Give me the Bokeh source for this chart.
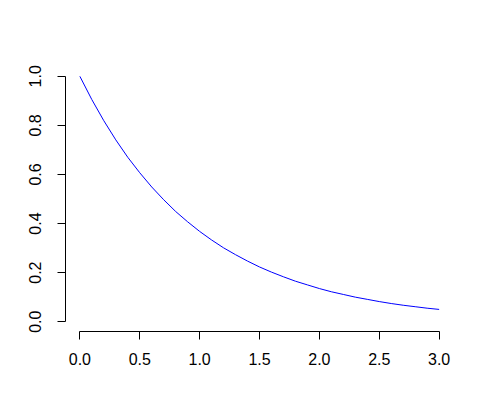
from bokeh.plotting import figure
from bokeh.models import FixedTicker, Range1d
from bokeh.embed import file_html
from bokeh.resources import INLINE

x_vals = [0.0, 0.1, 0.2, 0.3, 0.4, 0.5, 0.6, 0.7, 0.8, 0.9, 1.0,
          1.1, 1.2, 1.3, 1.4, 1.5, 1.6, 1.7, 1.8, 1.9, 2.0,
          2.1, 2.2, 2.3, 2.4, 2.5, 2.6, 2.7, 2.8, 2.9, 3.0]
y_vals = [1.000, 0.905, 0.819, 0.741, 0.670, 0.607, 0.549, 0.497, 0.449, 0.407, 0.368,
          0.333, 0.301, 0.273, 0.247, 0.223, 0.202, 0.183, 0.165, 0.150, 0.135,
          0.122, 0.111, 0.100, 0.091, 0.082, 0.074, 0.067, 0.061, 0.055, 0.050]

x_ticks = [0.0, 0.5, 1.0, 1.5, 2.0, 2.5, 3.0]
x_tick_labels = ["0.0", "0.5", "1.0", "1.5", "2.0", "2.5", "3.0"]
y_ticks = [0.0, 0.2, 0.4, 0.6, 0.8, 1.0]
y_tick_labels = ["0.0", "0.2", "0.4", "0.6", "0.8", "1.0"]

xpad = (max(x_ticks) - min(x_ticks)) * 0.04
ypad = (max(y_ticks) - min(y_ticks)) * 0.04

p = figure(output_backend="svg", toolbar_location=None,
           frame_width=388, frame_height=265,
           x_range=Range1d(min(x_ticks) - xpad, max(x_ticks) + xpad),
           y_range=Range1d(min(y_ticks) - ypad, max(y_ticks) + ypad),
           min_border_left=65, min_border_top=66, min_border_right=15, min_border_bottom=57)
p.outline_line_color = None
p.xgrid.visible = False
p.ygrid.visible = False
p.background_fill_color = "white"
p.border_fill_color = "white"

p.line(x_vals, y_vals, line_color="#0000FF", line_width=1)

p.xaxis.ticker = FixedTicker(ticks=x_ticks)
p.yaxis.ticker = FixedTicker(ticks=y_ticks)
p.xaxis.major_label_overrides = dict(zip(x_ticks, x_tick_labels))
p.yaxis.major_label_overrides = dict(zip(y_ticks, y_tick_labels))
p.xaxis.bounds = (min(x_ticks), max(x_ticks))
p.yaxis.bounds = (min(y_ticks), max(y_ticks))
p.yaxis.major_label_orientation = "vertical"

for ax in (p.xaxis, p.yaxis):
    ax.axis_line_color = "black"
    ax.axis_line_width = 1
    ax.major_tick_line_color = "black"
    ax.major_tick_in = 0
    ax.major_tick_out = 8
    ax.minor_tick_line_color = None
    ax.major_label_text_font = "Liberation Sans"
    ax.major_label_text_font_size = "16px"
    ax.major_label_text_color = "black"

p.xaxis.major_label_standoff = 13
p.yaxis.major_label_standoff = 16

open("out.html", "w").write(file_html(p, INLINE))
